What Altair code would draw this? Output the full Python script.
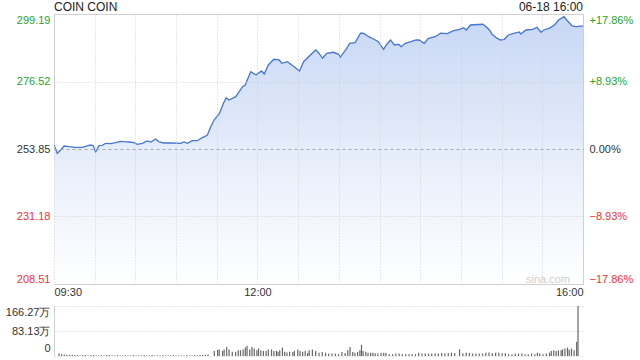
import altair as alt
import pandas as pd

# ---------------- data ----------------
# minutes after 09:30 and last price
minutes = [0, 2.4, 4.9, 7.4, 11, 16, 20.9, 24.5, 27.1, 29,
           30.7, 33.2, 35.6, 38.1, 41.8, 45.5, 49.2, 51.6, 55.3, 59,
           61.4, 65.1, 68.8, 71.3, 75, 77.4, 81.1, 87.2, 93.4, 95.8,
           98.3, 102, 105.6, 109.3, 113, 115.5, 118,
           122, 125, 127, 129, 134, 139, 141, 145, 149,
           153, 155, 158, 162, 166, 168, 172, 177, 181, 184,
           189, 193, 195, 198, 201, 206, 210, 211, 215, 218,
           222, 226, 228, 232, 236, 239, 243, 245, 248, 251,
           254, 256, 259, 263, 267, 269, 273, 276, 281, 285,
           290, 294, 299, 302, 304, 307, 316, 318, 321, 323,
           326, 329, 332, 335, 339, 343, 344, 348, 353, 356,
           359, 361, 365, 369, 372, 376, 378, 382, 385, 390]
prices = [255.19, 252.41, 253.51, 254.86, 254.62, 254.42, 254.42, 254.86, 255.19, 254.96,
          252.84, 254.96, 255.09, 255.76, 255.63, 255.97, 256.44, 256.30, 256.20, 255.97,
          255.43, 255.76, 256.54, 256.20, 257.21, 256.20, 255.87, 255.87, 255.76, 256.20,
          255.76, 256.64, 256.64, 257.65, 258.45, 261.24, 263.59,
          265.84, 269.30, 271.08, 270.30, 271.42, 274.78, 275.35, 279.81, 278.71,
          280.05, 279.04, 282.07, 283.98, 283.75, 282.64, 283.18, 281.49, 280.05, 283.18,
          285.42, 287.11, 286.20, 284.32, 286.00, 286.33, 285.66, 284.65, 287.10, 289.35,
          289.56, 292.72, 292.72, 291.57, 290.70, 289.89, 287.34, 288.78, 290.46, 288.78,
          289.02, 288.21, 289.35, 289.89, 290.46, 290.46, 289.35, 291.03, 291.57, 292.72,
          292.58, 293.49, 294.06, 294.60, 293.82, 295.50, 295.74, 295.17, 293.82, 292.38,
          291.24, 290.46, 290.70, 292.14, 292.72, 293.15, 292.48, 293.82, 294.06, 294.73,
          293.05, 293.82, 294.39, 295.50, 297.18, 298.29, 297.18, 295.17, 294.94, 295.17]

# volume (万 shares)
vol_early_minutes = list(range(0, 114, 2))
vol_early = [8, 6, 5, 4, 3, 4, 3, 3, 2, 3, 3, 2, 3, 3, 2, 2, 3, 2, 3, 3,
             2, 2, 3, 2, 2, 3, 2, 2, 3, 2, 2, 2, 3, 2, 2, 3, 2, 2, 2, 3,
             2, 2, 2, 3, 2, 2, 2, 2, 3, 2, 2, 3, 2, 3, 3, 4, 5]
vol_late_minutes = [116.7, 119.2, 120.4, 122.9, 124.1, 126, 127.8, 130.2, 132.7, 134.7,
                    136.4, 138.4, 140, 141.3, 143.3, 145, 146.7, 148.7, 149.9, 151.6,
                    153.6, 155.6, 157.3, 159.7, 161.5, 163.4, 164.6, 165.9, 167.9, 169.6,
                    171.3, 173.3, 175.7, 176.9, 179.4, 181.1, 183.1, 185, 186.8, 188,
                    190.4, 192.9, 195.4, 197.8, 200.3, 202.7, 205.2, 207.7, 210.1, 212.6,
                    215, 217, 218.7, 220.7, 222.4, 224.4, 226.1, 227.3, 228.5, 230.5,
                    232.2, 234.2, 235.9, 237.6, 239.6, 242, 244, 245.7, 248.2, 250.7,
                    253.1, 255.6, 258, 260.5, 263, 265.4, 267.9, 270.3, 272.8, 275.2,
                    277.7, 280.1, 282.6, 285.1, 287.5, 290, 292.5, 294.9, 297.4, 301,
                    303.5, 306, 308.4, 310.9, 313.3, 315.8, 318.3, 320.7, 323.1, 325.6,
                    328.1, 330.5, 333, 335.4, 337.9, 340.4, 342.8, 345.3, 347.8, 350.2,
                    352.6, 355.1, 357.6, 359.5, 361.2, 363.7, 366.2, 368.6, 369.9, 371.8,
                    373.6, 375.3, 377.3, 378.4, 380.2, 382.1, 383.4, 385.1, 387.1, 389,
                    390]
vol_late = [17, 20, 22, 17, 22, 30, 22, 14, 14, 19,
            19, 22, 28, 33, 22, 30, 25, 19, 25, 19,
            17, 17, 22, 22, 17, 17, 14, 19, 28, 14,
            12, 14, 13, 17, 22, 17, 14, 17, 10, 19,
            22, 17, 11, 13, 11, 8, 8, 8, 6, 13,
            10, 19, 30, 13, 11, 13, 19, 37, 17, 14,
            11, 11, 11, 9, 8, 11, 11, 10, 6, 6,
            8, 8, 6, 6, 6, 6, 6, 11, 8, 8,
            8, 8, 8, 8, 10, 8, 10, 11, 10, 22,
            9, 11, 10, 8, 8, 8, 8, 11, 12, 9,
            11, 11, 9, 9, 6, 6, 8, 8, 8, 6,
            6, 8, 6, 11, 8, 6, 8, 11, 17, 19,
            17, 19, 19, 22, 25, 28, 21, 25, 19, 47,
            166.27]

price_ticks = [208.51, 231.18, 253.85, 276.52, 299.19]
vol_ticks = [0, 83.13, 166.27]
time_ticks = [0, 30, 60, 90, 120, 150, 180, 210, 240, 270, 300, 330, 360, 390]
time_labels = {0: "09:30", 150: "12:00", 390: "16:00"}
title_text = "COIN COIN"
date_text = "06-18 16:00"
watermark = "sina.com"
BASE = 253.85

# ---------------- styles ----------------
FONT = "Liberation Sans"
GREEN = "#1fa51f"
RED = "#f03434"
DARK = "#333333"
GRID = "#d0d0d0"
BLUE = "#4677d2"
W, H, VH = 529, 270, 50
# fill fade colours: bottom -> middle -> top of the price panel
FADE_BOTTOM = (255, 255, 255)
FADE_MID = (229, 236, 250)
FADE_TOP = (199, 215, 245)
N_STEPS = 45

df = pd.DataFrame({"m": minutes, "p": prices})
vdf = pd.DataFrame({"m": vol_early_minutes + vol_late_minutes,
                    "v": vol_early + vol_late})


def fade_color(f):
    if f <= 0.5:
        a, b, t = FADE_BOTTOM, FADE_MID, f / 0.5
    else:
        a, b, t = FADE_MID, FADE_TOP, (f - 0.5) / 0.5
    return "#%02x%02x%02x" % tuple(round(a[i] + (b[i] - a[i]) * t) for i in range(3))


# opaque bands: each covers the region between its level and the price line;
# drawn bottom-up so the highest band below a point wins -> vertical fade
lo, hi = price_ticks[0], price_ticks[-1]
bands = []
for k in range(N_STEPS):
    L = lo + (hi - lo) * k / N_STEPS
    bands.append(df.assign(level=k, p2=df["p"].clip(upper=L),
                           col=fade_color((k + 0.5) / N_STEPS)))
fade = pd.concat(bands, ignore_index=True)

label_color = {
    "condition": [
        {"test": f"datum.value > {BASE} + 0.01", "value": GREEN},
        {"test": f"datum.value < {BASE} - 0.01", "value": RED},
    ],
    "value": DARK,
}

time_expr = " : ".join(
    [f"datum.value == {k} ? '{v}'" for k, v in time_labels.items()]) + " : ''"

x_scale = alt.Scale(domain=[0, 390], nice=False, zero=False)
y_scale = alt.Scale(domain=[208.51, 299.19], nice=False, zero=False)

x_top = alt.X("m:Q", scale=x_scale, title=None,
              axis=alt.Axis(values=time_ticks, labelExpr=time_expr, labelFlush=True,
                            labelOverlap=False, ticks=False, domain=False, grid=True,
                            gridColor=GRID, gridDash=[1, 2], labelFont=FONT,
                            labelFontSize=11, labelColor=DARK, labelPadding=2, zindex=1))

left_axis = alt.Axis(values=price_ticks, format=".2f", labelFlush=True, labelOverlap=False,
                     ticks=False, domain=False, grid=True, zindex=1,
                     gridColor={"condition": {"test": f"abs(datum.value - {BASE}) < 0.01",
                                              "value": "#a8a8a8"}, "value": GRID},
                     gridDash={"condition": {"test": f"abs(datum.value - {BASE}) < 0.01",
                                             "value": [3, 3]}, "value": [1, 2]},
                     labelColor=label_color, labelFont=FONT, labelFontSize=11,
                     labelPadding=4)

pct = f"(datum.value - {BASE}) / {BASE} * 100"
right_axis = alt.Axis(values=price_ticks, orient="right", labelFlush=True, labelOverlap=False,
                      ticks=False, domain=False, grid=False,
                      labelExpr=(f"datum.value > {BASE} + 0.01 ? '+' + format({pct}, '.2f') + '%' : "
                                 f"(datum.value < {BASE} - 0.01 ? format({pct}, '.2f') + '%' : '0.00%')"),
                      labelColor=label_color, labelFont=FONT, labelFontSize=11,
                      labelPadding=6)

area = alt.Chart(fade).mark_area(clip=True, opacity=1).encode(
    x=x_top,
    y=alt.Y("p:Q", scale=y_scale, axis=left_axis, title=None),
    y2="p2:Q",
    detail="level:O",
    color=alt.Color("col:N", scale=None, legend=None))

line = alt.Chart(df).mark_line(color=BLUE, strokeWidth=1.3, clip=True).encode(
    x=alt.X("m:Q", scale=x_scale),
    y=alt.Y("p:Q", scale=y_scale, axis=right_axis, title=None))

title = alt.Chart(pd.DataFrame({"t": [title_text]})).mark_text(
    align="left", baseline="alphabetic", font=FONT, fontSize=12, color="#222222"
).encode(text="t:N", x=alt.value(0), y=alt.value(-3))

date = alt.Chart(pd.DataFrame({"t": [date_text]})).mark_text(
    align="right", baseline="alphabetic", font=FONT, fontSize=12, color="#222222"
).encode(text="t:N", x=alt.value(W), y=alt.value(-3))

wm = alt.Chart(pd.DataFrame({"t": [watermark]})).mark_text(
    align="right", baseline="alphabetic", font=FONT, fontSize=11, color="#cfcfcf"
).encode(text="t:N", x=alt.value(516), y=alt.value(269))

top = alt.layer(area, line, wm, title, date).resolve_scale(
    y="independent", color="independent").properties(width=W, height=H)

vol = alt.Chart(vdf).mark_bar(width=1.2, color="#666666").encode(
    x=alt.X("m:Q", scale=x_scale, axis=None),
    y=alt.Y("v:Q", scale=alt.Scale(domain=[0, 166.27], nice=False), title=None,
            axis=alt.Axis(values=vol_ticks, labelFlush=True, labelOverlap=False,
                          labelExpr="datum.value == 0 ? '0' : format(datum.value, '.2f') + '万'",
                          labelOffset={"condition": {"test": "datum.value == 0", "value": -3},
                                       "value": 0},
                          ticks=False, domain=True, domainColor=GRID, grid=True,
                          gridColor=GRID, gridDash=[1, 2], labelFont=FONT,
                          labelFontSize=11, labelColor=DARK, labelPadding=4))
).properties(width=W, height=VH, view=alt.ViewBackground(stroke=None))

chart = alt.vconcat(top, vol, spacing=8).properties(
    padding={"left": 5, "top": 0, "right": 6, "bottom": 5},
    background="white"
).configure_view(stroke=GRID)

chart.save("out.html", embed_options={"renderer": "svg", "actions": False})
